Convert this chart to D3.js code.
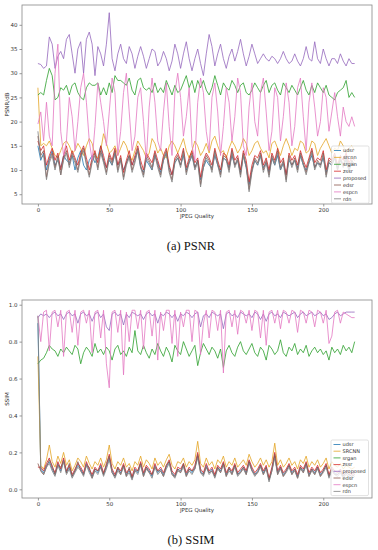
<!DOCTYPE html>
<html>
  <head>
    <script type="text/javascript" src="https://cdn.jsdelivr.net/npm/d3@7"></script>
    <style>
      body {
        margin: 0;
        background: #fff;
      }
      .axis text {
        fill: #333;
        font: 5.5px 'DejaVu Sans', sans-serif;
      }
      .axis path {
        display: none;
      }
      .axis line {
        stroke: #555;
        stroke-width: 0.6;
      }
      .frame {
        fill: none;
        stroke: #888;
        stroke-width: 0.8;
      }
      .axlabel {
        fill: #333;
        font: 5.5px 'DejaVu Sans', sans-serif;
      }
      .caption {
        fill: #111;
        font: 12.5px 'Liberation Serif', 'DejaVu Serif', serif;
      }
      .legend text {
        fill: #333;
        font: 5px 'DejaVu Sans', sans-serif;
      }
      .series {
        fill: none;
        stroke-width: 0.8;
        stroke-linejoin: round;
      }
    </style>
  </head>
  <body>
    <svg id="chart" width="378" height="550"></svg>

    <script type="text/javascript">
      // series names (legend order) and colours
      var namesPsnr = ['udsr', 'srcnn', 'srgan', 'zssr', 'proposed', 'edsr', 'espcn', 'rdn'];
      var namesSsim = ['udsr', 'SRCNN', 'srgan', 'zssr', 'proposed', 'edsr', 'espcn', 'rdn'];
      var colors = ['#1f77b4', '#e3a524', '#2ca02c', '#d62728', '#9467bd', '#8c564b', '#e377c2', '#7f7f7f'];

      // x positions: every second JPEG quality step
      var quality = d3.range(0, 224, 2);
      var xTicks = [0, 50, 100, 150, 200];
      var psnrTicks = [5, 10, 15, 20, 25, 30, 35, 40];
      var ssimTicks = [0.0, 0.2, 0.4, 0.6, 0.8, 1.0];

      // ---- PSNR values ----
      var psnrUdsr = [15, 12, 13.5, 10, 12.5, 14, 11, 12, 10.5, 13, 12, 11.5, 13, 10, 12.5, 14, 11, 10, 12, 13, 11.5, 12.5, 15, 12, 10.5, 12, 11, 13.5, 11, 12, 10, 11.5, 13, 11, 12.5, 14, 10.5, 9.5, 12, 11, 10, 13, 11.5, 9.5, 12, 13.5, 10.5, 9, 11.5, 12.5, 11, 13, 10, 11.5, 13, 10.5, 12, 8, 10.5, 12, 11, 10.5, 13, 11, 9.5, 12.5, 12, 10.5, 13, 11, 12, 9.5, 13, 10.5, 7, 10, 12, 11, 13, 10.5, 11.5, 9.5, 12.5, 11, 13, 10, 11.5, 9, 12, 11, 12, 10.5, 13, 11, 10, 11.5, 13, 10.5, 11.5, 11, 12.5, 9.5, 11.5, 11, 12.5, 10.5, 12, 11, 12, 10, 11.5, 11];
      var psnrSrcnn = [27, 15, 15.5, 15, 16, 14.5, 13, 12.5, 14, 15.5, 16, 15, 13.5, 14, 15.5, 14.5, 13, 15, 16.5, 15.5, 13, 12.5, 14, 17.5, 15.5, 13.5, 14, 15, 13, 14.5, 16, 15, 13, 12, 14, 16, 15, 14, 12.5, 13.5, 16.5, 15.5, 13.5, 14.5, 13, 12.5, 15, 16, 15, 13.5, 15, 16.5, 14, 12.5, 14, 16, 15, 13, 14, 15.5, 13.5, 16, 17, 15, 13.5, 14, 12.5, 14.5, 16, 15, 13.5, 14.5, 16.5, 15.5, 13, 14, 15.5, 16, 14.5, 13.5, 14, 12.5, 15.5, 16, 14.5, 13, 15, 16.5, 15, 13, 14.5, 14, 16, 15.5, 13.5, 14, 16, 15.5, 13, 14.5, 15.5, 16.5, 15, 13.5, 14.5, 14, 16, 15, 13.5, 14.5, 15, 14];
      var psnrSrgan = [25.5, 26, 25.5, 28.5, 31, 29.5, 24.5, 25, 27, 26.5, 27.5, 25.5, 27.5, 28, 26, 25, 24.5, 27, 28, 27.5, 27.5, 28, 25.5, 27, 25.5, 28, 26, 29.5, 28.5, 28.5, 28, 27.5, 29, 26.5, 25.5, 28.5, 29, 27, 26.5, 27, 26, 28, 26, 27, 26, 28.5, 27, 25.5, 27.5, 26, 26.5, 28, 29.5, 27, 28.5, 26, 28.5, 27, 28.5, 26.5, 25.5, 27, 29.5, 27.5, 25.5, 28, 27, 26.5, 28.5, 27.5, 26, 27.5, 28, 26, 25.5, 26.5, 28, 27, 26, 27.5, 28.5, 26, 27.5, 28, 26.5, 25.5, 28, 27, 26, 27.5, 26.5, 25.5, 27, 28.5, 26.5, 25.5, 27.5, 26, 28, 27, 26, 27.5, 25.5, 25, 24.5, 26, 26.5, 27, 28.5, 25, 26, 25];
      var psnrZssr = [16, 14, 15, 11, 13, 14.5, 12, 13.5, 10, 13, 15, 12, 14, 12.5, 11, 13.5, 15, 12.5, 10, 12.5, 14, 11.5, 15, 13, 10.5, 13.5, 12, 14.5, 11, 13, 9.5, 12, 14, 11, 13, 15, 12, 10, 13.5, 12.5, 11.5, 14, 12, 10, 13, 14.5, 11, 9, 12.5, 13.5, 12, 14.5, 10.5, 12.5, 14, 11.5, 12.5, 8.5, 12, 13.5, 12.5, 11, 14.5, 12, 10, 13.5, 13, 11, 14.5, 12, 13, 10, 14, 12, 7.5, 11, 13, 12.5, 14, 11, 12.5, 10, 13.5, 12, 14.5, 11.5, 12.5, 9, 13.5, 12, 13, 11, 14, 12, 10.5, 12.5, 14.5, 11.5, 12.5, 12, 14, 10, 12.5, 12, 13.5, 11, 13, 12, 13.5, 11.5, 12.5, 12];
      var psnrProposed = [32, 31.8, 31, 31.5, 37.5, 36, 31, 33.5, 34.5, 33, 37, 38, 34, 30, 35, 36.5, 30, 37, 38.5, 36, 29.5, 35.5, 34, 31.5, 36, 42.5, 33, 30.5, 34, 36, 33, 32, 35.5, 34, 31, 33.5, 35.5, 33.5, 31, 33, 35, 34.5, 31.5, 32.5, 34.5, 33, 30.5, 32.5, 36, 34, 31, 34, 36.5, 33, 30.5, 33, 35, 32, 29.5, 34, 38, 35.5, 31.5, 34, 36, 33, 31, 33.5, 35, 32.5, 34.5, 37, 34, 31.5, 33.5, 36, 34, 32, 33, 34, 33, 32.5, 33.5, 33, 32, 33, 34.5, 33, 32, 32.5, 34, 32.5, 31.5, 33, 35.5, 33, 32.5, 36.5, 33, 32, 35, 33, 31.5, 33, 33, 32, 34, 32.5, 31.5, 33, 32, 32];
      var psnrEdsr = [17, 13, 14, 8.5, 12, 13.5, 10.5, 13, 9, 12.5, 14, 11, 13.5, 12, 10, 13, 14.5, 11.5, 9, 12, 13.5, 10.5, 14, 12, 9.5, 13, 11.5, 14, 10, 12.5, 8.5, 11.5, 13, 10, 12, 14.5, 11, 9, 13, 12, 10.5, 13.5, 11, 9, 12.5, 14, 10, 8, 12, 13, 11, 14, 9.5, 12, 13.5, 10.5, 12, 7, 11, 13, 12, 10, 14, 11.5, 9, 13, 12.5, 10, 14, 11, 12.5, 9, 13.5, 11, 6, 10, 12.5, 11.5, 13.5, 10, 12, 9, 13, 11.5, 14, 10.5, 12, 8, 13, 11, 12.5, 10, 13.5, 11.5, 9.5, 12, 14, 10.5, 12, 11, 13.5, 9, 12, 11.5, 13, 10, 12.5, 11, 13, 10.5, 12, 11];
      var psnrEspcn = [19.5, 22, 16, 24, 17, 15, 30, 36, 18, 13, 16, 25, 21, 14, 20, 27, 30, 24, 16, 12, 19, 28, 24, 20, 15, 22, 29, 26, 13, 18, 26, 30, 22, 14, 17, 25, 27, 20, 12, 23, 29, 24, 16, 14, 22, 28, 19, 13, 26, 30, 25, 17, 21, 27, 15, 12, 24, 29, 26, 18, 14, 25, 28, 22, 13, 19, 27, 24, 16, 21, 29, 26, 15, 13, 23, 28, 20, 17, 26, 29, 22, 14, 18, 27, 25, 16, 21, 28, 24, 15, 19, 27, 29, 21, 14, 24, 28, 23, 17, 20, 27, 25, 18, 22, 26, 21, 17, 23, 20, 19, 21, 19];
      var psnrRdn = [18, 12.5, 13, 8, 11.5, 13, 10, 12.5, 9, 12, 13.5, 10.5, 13, 11.5, 9.5, 12.5, 14, 11, 8.5, 11.5, 13, 10, 13.5, 11.5, 9, 12.5, 11, 13.5, 9.5, 12, 8, 11, 12.5, 9.5, 11.5, 14, 10.5, 8.5, 12.5, 11.5, 10, 13, 10.5, 8.5, 12, 13.5, 9.5, 7.5, 11.5, 12.5, 10.5, 13.5, 9, 11.5, 13, 10, 11.5, 6.5, 10.5, 12.5, 11.5, 9.5, 13.5, 11, 8.5, 12.5, 12, 9.5, 13.5, 10.5, 12, 8.5, 13, 10.5, 5.5, 9.5, 12, 11, 13, 9.5, 11.5, 8.5, 12.5, 11, 13.5, 10, 11.5, 7.5, 12.5, 10.5, 12, 9.5, 13, 11, 9, 11.5, 13.5, 10, 11.5, 10.5, 13, 8.5, 11.5, 11, 12.5, 10, 12, 10.5, 12.5, 9.5, 12, 11];

      // ---- SSIM values ----
      var ssimUdsr = [0.9, 0.11, 0.09, 0.13, 0.15, 0.11, 0.08, 0.14, 0.1, 0.16, 0.09, 0.12, 0.07, 0.1, 0.13, 0.11, 0.08, 0.14, 0.1, 0.07, 0.11, 0.09, 0.13, 0.08, 0.12, 0.17, 0.1, 0.07, 0.11, 0.09, 0.13, 0.08, 0.1, 0.06, 0.11, 0.09, 0.14, 0.08, 0.12, 0.1, 0.07, 0.13, 0.09, 0.11, 0.08, 0.12, 0.15, 0.09, 0.07, 0.11, 0.1, 0.13, 0.08, 0.11, 0.09, 0.12, 0.18, 0.1, 0.08, 0.13, 0.09, 0.11, 0.07, 0.12, 0.1, 0.14, 0.08, 0.11, 0.09, 0.13, 0.08, 0.1, 0.12, 0.09, 0.15, 0.11, 0.08, 0.1, 0.13, 0.09, 0.12, 0.05, 0.11, 0.18, 0.09, 0.12, 0.08, 0.1, 0.13, 0.09, 0.11, 0.07, 0.12, 0.1, 0.14, 0.08, 0.11, 0.09, 0.12, 0.08, 0.1, 0.13, 0.07, 0.11, 0.09, 0.08, 0.1, 0.07, 0.09, 0.08, 0.07, 0.08];
      var ssimSrcnn = [0.72, 0.13, 0.11, 0.16, 0.24, 0.15, 0.12, 0.18, 0.14, 0.2, 0.13, 0.16, 0.1, 0.13, 0.17, 0.15, 0.12, 0.18, 0.14, 0.11, 0.15, 0.13, 0.17, 0.12, 0.16, 0.24, 0.14, 0.11, 0.15, 0.13, 0.17, 0.12, 0.14, 0.1, 0.15, 0.13, 0.18, 0.12, 0.16, 0.14, 0.11, 0.17, 0.13, 0.15, 0.12, 0.16, 0.19, 0.13, 0.11, 0.15, 0.14, 0.17, 0.12, 0.15, 0.13, 0.16, 0.26, 0.14, 0.12, 0.17, 0.13, 0.15, 0.11, 0.16, 0.14, 0.18, 0.12, 0.15, 0.13, 0.17, 0.12, 0.14, 0.16, 0.13, 0.19, 0.15, 0.12, 0.14, 0.17, 0.13, 0.16, 0.12, 0.15, 0.25, 0.13, 0.16, 0.12, 0.14, 0.17, 0.13, 0.15, 0.11, 0.16, 0.14, 0.18, 0.12, 0.15, 0.13, 0.16, 0.12, 0.14, 0.17, 0.11, 0.15, 0.13, 0.12, 0.14, 0.11, 0.13, 0.12, 0.11, 0.12];
      var ssimSrgan = [0.68, 0.7, 0.71, 0.74, 0.78, 0.76, 0.75, 0.72, 0.76, 0.74, 0.77, 0.75, 0.73, 0.78, 0.76, 0.68, 0.74, 0.77, 0.75, 0.72, 0.79, 0.74, 0.76, 0.73, 0.77, 0.75, 0.7, 0.76, 0.78, 0.73, 0.75, 0.72, 0.77, 0.74, 0.86, 0.75, 0.73, 0.78, 0.74, 0.71, 0.76, 0.73, 0.79, 0.75, 0.72, 0.77, 0.74, 0.69, 0.78, 0.75, 0.73, 0.8, 0.76, 0.72, 0.75, 0.78, 0.67, 0.74, 0.79, 0.76, 0.73, 0.77, 0.75, 0.71, 0.76, 0.66, 0.75, 0.78, 0.74, 0.72, 0.77, 0.8, 0.75, 0.73, 0.76, 0.79, 0.74, 0.72, 0.77, 0.75, 0.7, 0.78, 0.76, 0.73, 0.75, 0.81, 0.74, 0.72, 0.77, 0.75, 0.79, 0.73, 0.76, 0.74, 0.78, 0.72, 0.75, 0.77, 0.74, 0.76, 0.73, 0.75, 0.7, 0.77, 0.74, 0.76, 0.73, 0.78, 0.75, 0.77, 0.74, 0.8];
      var ssimZssr = [0.12, 0.12, 0.1, 0.14, 0.17, 0.12, 0.09, 0.15, 0.11, 0.17, 0.1, 0.13, 0.08, 0.11, 0.14, 0.12, 0.09, 0.15, 0.11, 0.08, 0.12, 0.1, 0.14, 0.09, 0.13, 0.19, 0.11, 0.08, 0.12, 0.1, 0.14, 0.09, 0.11, 0.07, 0.12, 0.1, 0.15, 0.09, 0.13, 0.11, 0.08, 0.14, 0.1, 0.12, 0.09, 0.13, 0.16, 0.1, 0.08, 0.12, 0.11, 0.14, 0.09, 0.12, 0.1, 0.13, 0.2, 0.11, 0.09, 0.14, 0.1, 0.12, 0.08, 0.13, 0.11, 0.15, 0.09, 0.12, 0.1, 0.14, 0.09, 0.11, 0.13, 0.1, 0.16, 0.12, 0.09, 0.11, 0.14, 0.1, 0.13, 0.06, 0.12, 0.2, 0.1, 0.13, 0.09, 0.11, 0.14, 0.1, 0.12, 0.08, 0.13, 0.11, 0.15, 0.09, 0.12, 0.1, 0.13, 0.09, 0.11, 0.14, 0.08, 0.12, 0.1, 0.09, 0.11, 0.08, 0.1, 0.09, 0.08, 0.09];
      var ssimProposed = [0.93, 0.95, 0.94, 0.95, 0.93, 0.95, 0.96, 0.94, 0.95, 0.92, 0.95, 0.96, 0.94, 0.95, 0.9, 0.95, 0.96, 0.94, 0.95, 0.91, 0.95, 0.96, 0.93, 0.95, 0.88, 0.86, 0.95, 0.96, 0.94, 0.95, 0.89, 0.95, 0.93, 0.96, 0.95, 0.94, 0.95, 0.92, 0.95, 0.96, 0.94, 0.95, 0.9, 0.95, 0.94, 0.96, 0.95, 0.93, 0.95, 0.91, 0.95, 0.94, 0.96, 0.95, 0.93, 0.95, 0.96, 0.88, 0.94, 0.95, 0.93, 0.96, 0.95, 0.94, 0.95, 0.87, 0.95, 0.96, 0.94, 0.95, 0.93, 0.96, 0.95, 0.94, 0.95, 0.93, 0.96, 0.95, 0.92, 0.95, 0.91, 0.95, 0.96, 0.94, 0.95, 0.93, 0.96, 0.95, 0.94, 0.95, 0.96, 0.93, 0.95, 0.96, 0.94, 0.95, 0.96, 0.94, 0.95, 0.96, 0.94, 0.95, 0.92, 0.93, 0.95, 0.96, 0.94, 0.95, 0.96, 0.96, 0.96, 0.96];
      var ssimEdsr = [0.14, 0.1, 0.08, 0.12, 0.16, 0.13, 0.08, 0.13, 0.12, 0.15, 0.09, 0.14, 0.07, 0.1, 0.15, 0.1, 0.08, 0.13, 0.12, 0.06, 0.11, 0.1, 0.12, 0.08, 0.14, 0.18, 0.09, 0.07, 0.12, 0.08, 0.13, 0.07, 0.12, 0.06, 0.1, 0.1, 0.14, 0.07, 0.12, 0.09, 0.08, 0.12, 0.1, 0.1, 0.07, 0.13, 0.15, 0.08, 0.07, 0.11, 0.09, 0.14, 0.07, 0.11, 0.1, 0.11, 0.19, 0.09, 0.08, 0.12, 0.09, 0.1, 0.07, 0.12, 0.09, 0.14, 0.07, 0.12, 0.08, 0.13, 0.08, 0.09, 0.12, 0.08, 0.15, 0.1, 0.08, 0.09, 0.13, 0.08, 0.12, 0.05, 0.1, 0.19, 0.08, 0.12, 0.07, 0.1, 0.13, 0.08, 0.11, 0.06, 0.12, 0.09, 0.14, 0.07, 0.11, 0.08, 0.12, 0.07, 0.1, 0.13, 0.07, 0.11, 0.08, 0.08, 0.1, 0.07, 0.09, 0.08, 0.07, 0.08];
      var ssimEspcn = [0.94, 0.8, 0.96, 0.97, 0.75, 0.96, 0.97, 0.88, 0.97, 0.72, 0.96, 0.97, 0.85, 0.97, 0.78, 0.96, 0.97, 0.9, 0.97, 0.74, 0.96, 0.97, 0.82, 0.97, 0.68, 0.55, 0.96, 0.97, 0.85, 0.97, 0.62, 0.96, 0.8, 0.97, 0.97, 0.87, 0.97, 0.76, 0.96, 0.97, 0.83, 0.97, 0.7, 0.96, 0.86, 0.97, 0.97, 0.79, 0.97, 0.72, 0.96, 0.88, 0.97, 0.97, 0.8, 0.97, 0.96, 0.73, 0.9, 0.97, 0.82, 0.97, 0.96, 0.86, 0.97, 0.63, 0.96, 0.97, 0.88, 0.97, 0.84, 0.97, 0.96, 0.9, 0.97, 0.86, 0.97, 0.96, 0.82, 0.97, 0.78, 0.96, 0.97, 0.9, 0.97, 0.87, 0.97, 0.96, 0.9, 0.97, 0.96, 0.85, 0.97, 0.96, 0.9, 0.97, 0.96, 0.88, 0.97, 0.96, 0.9, 0.97, 0.79, 0.83, 0.96, 0.97, 0.9, 0.96, 0.95, 0.94, 0.93, 0.93];
      var ssimRdn = [0.94, 0.1, 0.08, 0.12, 0.14, 0.1, 0.07, 0.13, 0.09, 0.15, 0.08, 0.11, 0.06, 0.09, 0.12, 0.1, 0.07, 0.13, 0.09, 0.06, 0.1, 0.08, 0.12, 0.07, 0.11, 0.16, 0.09, 0.06, 0.1, 0.08, 0.12, 0.07, 0.09, 0.05, 0.1, 0.08, 0.13, 0.07, 0.11, 0.09, 0.06, 0.12, 0.08, 0.1, 0.07, 0.11, 0.14, 0.08, 0.06, 0.1, 0.09, 0.12, 0.07, 0.1, 0.08, 0.11, 0.17, 0.09, 0.07, 0.12, 0.08, 0.1, 0.06, 0.11, 0.09, 0.13, 0.07, 0.1, 0.08, 0.12, 0.07, 0.09, 0.11, 0.08, 0.14, 0.1, 0.07, 0.09, 0.12, 0.08, 0.11, 0.04, 0.1, 0.17, 0.08, 0.11, 0.07, 0.09, 0.12, 0.08, 0.1, 0.06, 0.11, 0.09, 0.13, 0.07, 0.1, 0.08, 0.11, 0.07, 0.09, 0.12, 0.06, 0.1, 0.08, 0.07, 0.09, 0.06, 0.08, 0.07, 0.06, 0.07];

      var svg = d3.select('#chart');

      // draws one subplot
      function drawPanel(p) {
        var x = d3.scaleLinear().domain([-11.15, 234.15]).range([p.left, p.right]);
        var y = d3.scaleLinear().domain(p.yDomain).range([p.bottom, p.top]);
        var g = svg.append('g');

        g.append('rect')
          .attr('x', p.left)
          .attr('y', p.top)
          .attr('width', p.right - p.left)
          .attr('height', p.bottom - p.top)
          .attr('fill', '#fff');

        var line = d3
          .line()
          .x(function (d, i) { return x(quality[i]); })
          .y(function (d) { return y(d); });

        p.series.forEach(function (s, i) {
          g.append('path')
            .attr('class', 'series')
            .attr('stroke', colors[i])
            .attr('d', line(s));
        });

        g.append('g')
          .attr('class', 'axis')
          .attr('transform', 'translate(0,' + p.bottom + ')')
          .call(d3.axisBottom(x).tickValues(xTicks).tickSize(2.5).tickPadding(2));
        g.append('g')
          .attr('class', 'axis')
          .attr('transform', 'translate(' + p.left + ',0)')
          .call(d3.axisLeft(y).tickValues(p.yTicks).tickSize(2.5).tickPadding(2).tickFormat(p.fmt));

        g.append('rect')
          .attr('class', 'frame')
          .attr('x', p.left)
          .attr('y', p.top)
          .attr('width', p.right - p.left)
          .attr('height', p.bottom - p.top);

        g.append('text')
          .attr('class', 'axlabel')
          .attr('x', (p.left + p.right) / 2)
          .attr('y', p.bottom + 14)
          .attr('text-anchor', 'middle')
          .text('JPEG Quality');
        g.append('text')
          .attr('class', 'axlabel')
          .attr('transform', 'translate(9,' + (p.top + p.bottom) / 2 + ') rotate(-90)')
          .attr('text-anchor', 'middle')
          .text(p.ylabel);

        // legend in the lower right corner
        var lg = g.append('g').attr('class', 'legend');
        lg.append('rect')
          .attr('x', p.legX)
          .attr('y', p.legY)
          .attr('width', 37.5)
          .attr('height', p.legStep * 8 + 2)
          .attr('rx', 1.5)
          .attr('fill', 'rgba(255,255,255,0.8)')
          .attr('stroke', '#ccc')
          .attr('stroke-width', 0.6);
        p.names.forEach(function (n, i) {
          var yy = p.legY + 4.5 + i * p.legStep;
          lg.append('line')
            .attr('x1', p.legX + 2.5)
            .attr('x2', p.legX + 9.5)
            .attr('y1', yy)
            .attr('y2', yy)
            .attr('stroke', colors[i])
            .attr('stroke-width', 0.8);
          lg.append('text')
            .attr('x', p.legX + 11.5)
            .attr('y', yy + 1.8)
            .text(n);
        });

        svg.append('text')
          .attr('class', 'caption')
          .attr('x', 191)
          .attr('y', p.captionY)
          .attr('text-anchor', 'middle')
          .text(p.caption);
      }

      drawPanel({
        left: 22, right: 372, top: 5, bottom: 204,
        yDomain: [2.98, 44.09],
        yTicks: psnrTicks,
        fmt: d3.format('d'),
        ylabel: 'PSNR/dB',
        names: namesPsnr,
        series: [psnrUdsr, psnrSrcnn, psnrSrgan, psnrZssr, psnrProposed, psnrEdsr, psnrEspcn, psnrRdn],
        legX: 331.5, legY: 146, legStep: 6.9,
        caption: '(a) PSNR', captionY: 250
      });

      drawPanel({
        left: 22, right: 372, top: 300, bottom: 498,
        yDomain: [-0.047, 1.0255],
        yTicks: ssimTicks,
        fmt: d3.format('.1f'),
        ylabel: 'SSIM',
        names: namesSsim,
        series: [ssimUdsr, ssimSrcnn, ssimSrgan, ssimZssr, ssimProposed, ssimEdsr, ssimEspcn, ssimRdn],
        legX: 331, legY: 440, legStep: 6.7,
        caption: '(b) SSIM', captionY: 544
      });
    </script>
  </body>
</html>
